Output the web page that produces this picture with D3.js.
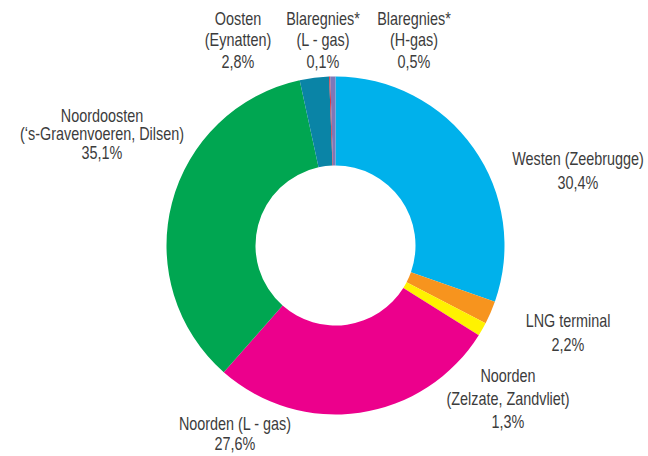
<!DOCTYPE html>
<html>
<head>
<meta charset="utf-8">
<script src="https://cdn.jsdelivr.net/npm/d3@7/dist/d3.min.js"></script>
<style>
  body { margin: 0; background: #fff; }
  text { font-family: "Liberation Sans", Arial, sans-serif; fill: #3c3c3c; }
</style>
</head>
<body>
<div id="chart-area"></div>
<script>
// slices, clockwise from 12 o'clock
const names = ["Westen", "LNG terminal", "Noorden Zelzate", "Noorden L-gas", "Noordoosten", "Oosten", "Blaregnies L-gas", "Blaregnies H-gas"];
const values = [30.4, 2.2, 1.3, 27.6, 35.1, 2.8, 0.1, 0.5];
const colors = ["#00b1eb", "#f7941e", "#fff200", "#ec008c", "#00a651", "#0a84a6", "#dc2530", "#7d78b8"];
const labelLines = [
	["Westen (Zeebrugge)", "30,4%"],
	["LNG terminal", "2,2%"],
	["Noorden", "(Zelzate, Zandvliet)", "1,3%"],
	["Noorden (L - gas)", "27,6%"],
	["Noordoosten", "(\u2018s-Gravenvoeren, Dilsen)", "35,1%"],
	["Oosten", "(Eynatten)", "2,8%"],
	["Blaregnies*", "(L - gas)", "0,1%"],
	["Blaregnies*", "(H-gas)", "0,5%"]
];

// label layout: centre x, first baseline, line step
const labelPos = [
	{x: 578, y: 165, dy: 24},
	{x: 568, y: 327, dy: 24},
	{x: 508, y: 382, dy: 23},
	{x: 235, y: 430, dy: 20},
	{x: 102, y: 122, dy: 18.5},
	{x: 238, y: 25, dy: 21.5},
	{x: 323, y: 25, dy: 21.5},
	{x: 414, y: 25, dy: 21.5}
];

const width = 648;
const height = 456;
const cx = 335.5, cy = 245.5;
const outerR = 169, innerR = 80;
const narrow = 0.8; // squeeze to mimic a condensed face

const svg = d3.select('#chart-area')
			.append('svg')
			.attr('width', width)
			.attr('height', height);

const g = svg.append('g')
			.attr('transform', `translate(${cx},${cy})`);

const pie = d3.pie()
			.sort(null)
			.value(d => d);

const arc = d3.arc()
			.innerRadius(innerR)
			.outerRadius(outerR);

g.selectAll('path')
	.data(pie(values))
	.enter()
	.append('path')
	.attr('d', arc)
	.attr('fill', (d, i) => colors[i]);

const labels = svg.selectAll('g.label')
	.data(labelLines)
	.enter()
	.append('g')
	.attr('class', 'label')
	.attr('transform', (d, i) => `translate(${labelPos[i].x},0) scale(${narrow},1)`)
	.append('text')
	.attr('text-anchor', 'middle')
	.attr('font-size', '18px');

labels.each(function(lines, i){
	const p = labelPos[i];
	d3.select(this).selectAll('tspan')
		.data(lines)
		.enter()
		.append('tspan')
		.attr('x', 0)
		.attr('y', (d, j) => p.y + j * p.dy)
		.text(d => d);
});
</script>
</body>
</html>
